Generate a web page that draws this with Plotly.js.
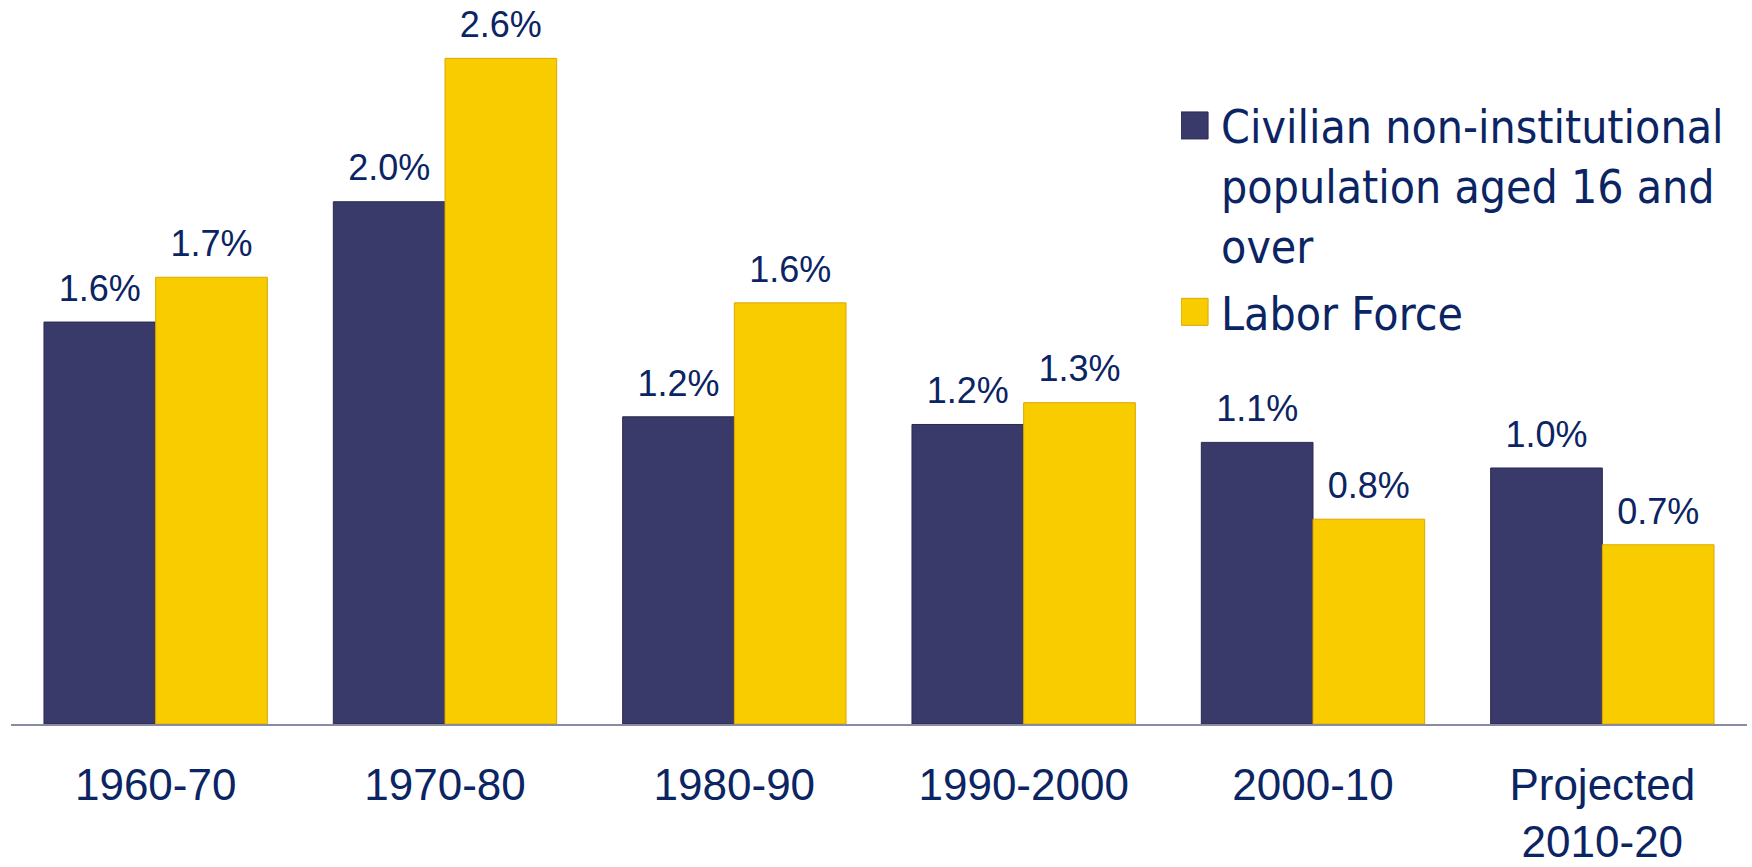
<!DOCTYPE html>
<html>
<head>
<meta charset="utf-8">
<script src="https://cdn.plot.ly/plotly-3.0.1.min.js"></script>
<style>
  html, body { margin: 0; padding: 0; background: #ffffff; }
  #chart { width: 1752px; height: 867px; }
</style>
</head>
<body>
<div id="chart"></div>
<script>
// ---- data ----
var categories = ['1960-70', '1970-80', '1980-90', '1990-2000', '2000-10', 'Projected<br>2010-20'];
var populationGrowth = [1.57, 2.04, 1.20, 1.17, 1.10, 1.00];
var laborForceGrowth = [1.745, 2.60, 1.645, 1.255, 0.80, 0.70];
var seriesNames = ['Civilian non-institutional<br>population aged 16 and<br>over', 'Labor Force'];

var textColor = '#0b2463';
var numFont = 'Liberation Sans, Arial, sans-serif';
var legendFont = 'DejaVu Sans Condensed, DejaVu Sans, sans-serif';
var seriesColors = ['#39396a', '#f9cc00'];
var seriesEdges = ['#2a2a50', '#d9a800'];
var seriesValues = [populationGrowth, laborForceGrowth];

var traces = [];
// bars
seriesValues.forEach(function (vals, i) {
  traces.push({
    type: 'bar',
    name: seriesNames[i],
    legendgroup: 'g' + i,
    x: categories,
    y: vals,
    marker: { color: seriesColors[i], line: { color: seriesEdges[i], width: 1 } },
    hoverinfo: 'skip'
  });
});
// value labels, grouped the same way as the bars
seriesValues.forEach(function (vals, i) {
  traces.push({
    type: 'scatter',
    mode: 'markers+text',
    showlegend: false,
    x: categories,
    y: vals,
    marker: { size: 18, opacity: 0 },
    texttemplate: '%{y:.1f}%',
    textposition: 'top center',
    textfont: { family: numFont, size: 36, color: textColor },
    cliponaxis: false,
    hoverinfo: 'skip'
  });
});

var layout = {
  width: 1752,
  height: 867,
  paper_bgcolor: '#ffffff',
  plot_bgcolor: '#ffffff',
  margin: { l: 11, r: 5, t: 0, b: 143 },
  barmode: 'group',
  bargap: 0.228,
  bargroupgap: 0.0,
  scattermode: 'group',
  scattergap: 0.228,
  showlegend: true,
  legend: {
    x: 0.674,
    xanchor: 'left',
    y: 0.877,
    yanchor: 'top',
    valign: 'top',
    traceorder: 'grouped',
    tracegroupgap: 4,
    bgcolor: 'rgba(0,0,0,0)',
    font: { family: legendFont, size: 46, color: textColor }
  },
  xaxis: {
    type: 'category',
    showline: true,
    linecolor: '#8a8aa2',
    linewidth: 2,
    showgrid: false,
    zeroline: false,
    ticks: '',
    ticklabelstandoff: 21,
    tickfont: { family: numFont, size: 44, color: textColor },
    fixedrange: true
  },
  yaxis: {
    range: [0, 2.828],
    visible: false,
    showgrid: false,
    zeroline: false,
    fixedrange: true
  }
};

Plotly.newPlot('chart', traces, layout, { staticPlot: true, displayModeBar: false }).then(function () {
  // enlarge the legend swatches to match the reference's big square keys
  document.querySelectorAll('.legend .legendpoints path').forEach(function (p) {
    p.setAttribute('d', 'M7,13.5H-20V-13.5H7Z');
    p.style.strokeWidth = '1px';
  });
});
</script>
</body>
</html>
